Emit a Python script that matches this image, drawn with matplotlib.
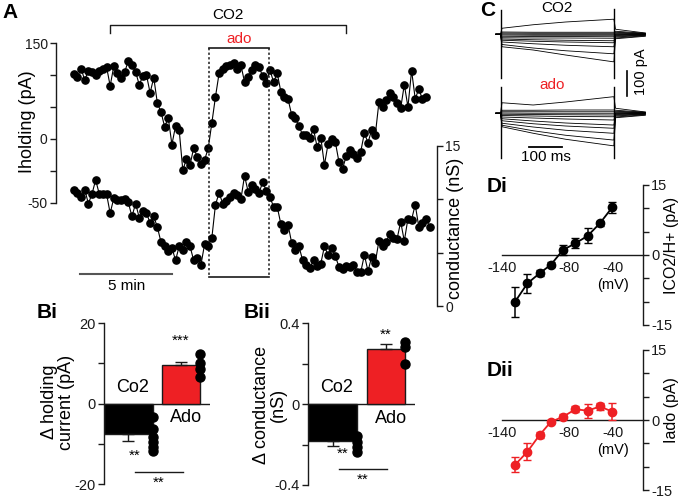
import numpy as np
import matplotlib
matplotlib.use("Agg")
import matplotlib.pyplot as plt

plt.rcParams['font.family'] = ['Liberation Sans', 'DejaVu Sans']

# ---- A: holding current and conductance over time (sampled every ~12 s)
sample_s = 11.8
ihold = [101, 97, 110, 92, 107, 105, 100, 107, 109, 113, 83, 114, 103, 96, 105, 122,
         116, 105, 85, 98, 100, 72, 96, 56, 42, 19, 33, -9, 20, 14, -49, -32, -41, -14,
         -29, -39, -33, -15, 25, 66, 103, 110, 114, 116, 119, 110, 116, 89, 97, 108, 116,
         113, 98, 88, 108, 89, 103, 74, 65, 62, 37, 32, 20, 6, 6, 2, 15, -13, 2, -41, -8,
         -1, -5, -36, -47, -27, -18, -23, -30, -20, 9, -6, 14, 6, 57, 50, 61, 72, 65, 56,
         48, 85, 50, 107, 63, 78, 62, 65]
gcond = [10.9, 10.6, 10.2, 10.9, 9.6, 10.5, 11.8, 10.5, 10.5, 10.5, 8.7, 10.1, 9.9, 9.9,
         10.0, 9.7, 8.4, 9.6, 8.3, 8.9, 8.7, 7.8, 8.4, 7.4, 6.0, 5.6, 5.2, 5.5, 4.3, 5.6,
         5.3, 6.0, 5.6, 4.3, 4.5, 3.9, 5.8, 5.6, 6.4, 9.5, 10.6, 9.6, 9.8, 10.2, 10.6, 10.4,
         10.0, 12.2, 10.7, 11.3, 11.0, 10.6, 11.6, 10.8, 10.2, 9.3, 9.3, 7.7, 7.1, 7.6, 5.9,
         5.3, 5.6, 4.3, 3.9, 3.6, 4.3, 3.8, 4.0, 5.6, 4.8, 5.5, 4.7, 3.7, 3.5, 3.8, 3.7, 3.9,
         3.2, 3.2, 4.8, 3.3, 4.6, 4.1, 6.1, 5.6, 6.0, 6.8, 6.4, 6.3, 7.9, 6.1, 8.2, 8.1, 9.5,
         7.4, 7.8, 8.2, 7.4]
co2_on, co2_off = 117, 884      # s
ado_on, ado_off = 439, 634      # s

# ---- B: summary bars
b_groups = ['Co2', 'Ado']
dI_mean = [-7.5, 9.5]
dI_sem = [1.8, 0.8]
dI_pts = [[-3.3, -6.2, -8.3, -9.6, -10.8, -11.8], [12.4, 10.0, 8.7, 6.6]]
dG_mean = [-0.183, 0.271]
dG_sem = [0.025, 0.026]
dG_pts = [[-0.158, -0.187, -0.211, -0.236], [0.308, 0.284, 0.201]]
bar_width = [0.93, 0.71]

# ---- C: current traces (pA) at knots during the 350 ms step
step_t = [4, 100, 200, 346]
co2_step = [[24, 38, 49, 60], [9, 8, 8, 8], [5, 4, 4, 4], [1, 0, 0, 0], [-3, -4, -4, -4],
            [-8, -9, -9, -10], [-14, -15, -15, -16], [-19, -22, -24, -26],
            [-24, -28, -31, -34], [-31, -38, -44, -50], [-41, -55, -66, -78],
            [-50, -63, -83, -110]]
ado_step = [[42, 33, 45, 66], [12, 12, 13, 13], [6, 6, 6, 6], [1, 0, 0, 0], [-4, -5, -6, -7],
            [-9, -11, -13, -14], [-15, -19, -23, -27], [-22, -31, -39, -47],
            [-30, -42, -51, -60], [-40, -55, -68, -80], [-48, -70, -88, -107],
            [-54, -80, -104, -130]]
tail_t = [354, 446]
tails = [[20, 5], [12, 4], [8, 3], [5, 2], [2, 1], [0, 0], [-2, -1], [-5, -2],
         [-8, -3], [-11, -4], [-15, -6], [-18, -8]]
spike_co2 = [(-175, 97), (-175, 100)]
spike_ado = [(-180, 104), (-179, 106)]
step_end = 350

# ---- D: I-V relations
vm = [-128, -117, -106, -96, -85, -74, -63, -52, -41]
i_co2 = [-10.0, -6.1, -3.9, -2.1, 1.1, 2.5, 4.1, 6.8, 10.2]
i_co2_err = [3.2, 2.1, 0.6, 0.5, 1.1, 1.1, 1.6, 0.5, 1.2]
i_ado = [-9.6, -6.8, -3.2, -0.4, 0.7, 2.3, 2.0, 2.9, 1.8]
i_ado_err = [1.6, 1.8, 0.7, 0.3, 0.5, 0.6, 1.5, 0.7, 1.9]

RED = '#ee2024'
INK = '#1a1a1a'
W, H = 682, 500
fig = plt.figure(figsize=(6.82, 5.0), dpi=100)


def axes_px(x0, y0, x1, y1):
    ax = fig.add_axes([x0 / W, 1 - y1 / H, (x1 - x0) / W, (y1 - y0) / H])
    ax.patch.set_alpha(0)
    for s in ax.spines.values():
        s.set_visible(False)
        s.set_color(INK)
        s.set_linewidth(1)
    ax.tick_params(colors=INK, labelsize=10, length=4, width=1, pad=2)
    return ax


def text_px(x, y, s, **kw):
    fig.text(x / W, 1 - y / H, s, **kw)


# ================= A
axA = axes_px(56, 10, 437, 290)
axA.set_xlim(-58, 1180)
axA.set_ylim(-237, 202)
tA = np.arange(len(ihold)) * sample_s
axA.plot(tA, ihold, '-o', color='k', ms=5.2, lw=0.8)
axA.spines['left'].set_visible(True)
axA.spines['left'].set_bounds(-100, 150)
axA.set_xticks([])
axA.set_yticks([150, 100, 50, 0, -50, -100])
axA.set_yticklabels(['150', '', '', '0', '', '-50'])
# CO2 bracket
axA.plot([co2_on, co2_on, co2_off, co2_off], [166, 178, 178, 166], color=INK, lw=1, clip_on=False)
axA.text((co2_on + co2_off) / 2, 183, 'CO2', ha='center', va='bottom', fontsize=11)
# ado box
axA.plot([ado_on, ado_off], [142, 142], color=INK, lw=1.2)
axA.plot([ado_on, ado_off], [-217, -217], color=INK, lw=1.2)
axA.plot([ado_on, ado_on], [142, -217], color=INK, lw=1.1, ls=(0, (1.5, 1.5)))
axA.plot([ado_off, ado_off], [142, -217], color=INK, lw=1.1, ls=(0, (1.5, 1.5)))
axA.text((ado_on + ado_off) / 2, 146, 'ado', ha='center', va='bottom', fontsize=11, color=RED)
# 5 min scale bar
axA.plot([20, 320], [-212, -212], color='#555555', lw=1.5)
axA.text(170, -220, '5 min', ha='center', va='top', fontsize=11)

axG = axes_px(56, 10, 437, 310)
axG.set_xlim(-58, 1180)
axG.set_ylim(-0.33, 27.66)
tG = np.arange(len(gcond)) * sample_s
axG.plot(tG, gcond, '-o', color='k', ms=5.2, lw=0.8)
axG.spines['right'].set_visible(True)
axG.spines['right'].set_bounds(0, 15)
axG.set_xticks([])
axG.yaxis.tick_right()
axG.set_yticks([0, 5, 10, 15])
axG.set_yticklabels(['0', '', '', '15'])

text_px(27, 122, 'Iholding (pA)', rotation=90, ha='center', va='center', fontsize=13)
text_px(456, 228, 'conductance (nS)', rotation=90, ha='center', va='center', fontsize=13)
text_px(2, 13, 'A', fontsize=15, fontweight='bold', va='center')

# ================= B
def bar_panel(box, means, sems, pts, ylim, ticks, ticklabels, stars, sig_y, sig_x):
    ax = axes_px(*box)
    ax.set_ylim(*ylim)
    ax.set_xlim(-0.464, 1.55)
    pos = [0, 1]
    ax.bar(pos, means, width=bar_width, color=['k', RED], edgecolor=INK, lw=1, zorder=2)
    ax.errorbar(pos[0], means[0], yerr=[[sems[0]], [0]], fmt='none', ecolor=INK,
                elinewidth=1, capsize=4, zorder=3)
    ax.errorbar(pos[1], means[1], yerr=[[0], [sems[1]]], fmt='none', ecolor=INK,
                elinewidth=1, capsize=4, zorder=3)
    for p, w, vals in zip(pos, bar_width, pts):
        ax.plot([p + w / 2] * len(vals), vals, 'o', color='k', ms=6.5, zorder=4, clip_on=False)
    ax.axhline(0, color=INK, lw=1, zorder=1)
    ax.spines['left'].set_visible(True)
    ax.set_xticks([])
    ax.set_yticks(ticks)
    ax.set_yticklabels(ticklabels)
    ax.tick_params(labelsize=10.5)
    span = ylim[1] - ylim[0]
    ax.text(0.08, 0.05 * span, b_groups[0], ha='center', va='bottom', fontsize=13)
    ax.text(1.1, -0.035 * span, b_groups[1], ha='center', va='top', fontsize=13)
    ax.text(stars[0][0], stars[0][1], '**', ha='center', va='center', fontsize=11)
    ax.text(stars[1][0], stars[1][1], stars[1][2], ha='center', va='center', fontsize=11)
    ax.plot(sig_x, [sig_y, sig_y], color=INK, lw=1, clip_on=False)
    ax.text(np.mean(sig_x), sig_y - 0.025 * span, '**', ha='center', va='top', fontsize=11)
    return ax

bar_panel((104, 323.3, 210, 484), dI_mean, dI_sem, dI_pts, (-20, 20),
          [-20, -10, 0, 10, 20], ['-20', '', '0', '', '20'],
          [(0.12, -13.0), (1.0, 15.6, '***')], -17.0, [0.12, 1.03])
bar_panel((308, 323.3, 415, 485), dG_mean, dG_sem, dG_pts, (-0.4, 0.4),
          [-0.4, -0.2, 0, 0.2, 0.4], ['-0.4', '', '0', '', '0.4'],
          [(0.19, -0.245), (1.0, 0.345, '**')], -0.32, [0.12, 1.02])
text_px(58, 402, 'Δ holding\ncurrent (pA)', rotation=90, ha='center', va='center',
        fontsize=13, multialignment='center', linespacing=1.0)
text_px(270, 405, 'Δ conductance\n(nS)', rotation=90, ha='center', va='center',
        fontsize=13, multialignment='center', linespacing=1.0)
text_px(37, 312, 'Bi', fontsize=15, fontweight='bold', va='center')
text_px(244, 312, 'Bii', fontsize=15, fontweight='bold', va='center')

# ================= C
axC = axes_px(485, 0, 682, 170)
axC.set_xlim(-48.5, 559)
axC.set_ylim(-543, 137)
axC.set_xticks([])
axC.set_yticks([])
ado_offset = -316
for traces, spikes, off in [(co2_step, spike_co2, 0), (ado_step, spike_ado, ado_offset)]:
    for tr, tl in zip(traces, tails):
        t = [-15, -1] + step_t + [step_end - 1] + tail_t
        v = [0, 0] + tr + [tr[-1]] + tl
        axC.plot(t, np.array(v) + off, color='k', lw=0.6)
    axC.plot([0, 0], np.array(spikes[0]) + off, color='k', lw=1.0)
    axC.plot([step_end, step_end], np.array(spikes[1]) + off, color='k', lw=1.0)
axC.text(173, 105, 'CO2', ha='center', va='center', fontsize=11)
axC.text(157, -203, 'ado', ha='center', va='center', fontsize=11, color=RED)
axC.plot([88, 188], [-450, -450], color='k', lw=1.3)
axC.text(138, -490, '100 ms', ha='center', va='center', fontsize=11)
axC.plot([390, 390], [-145, -245], color='k', lw=1.2)
axC.text(432, -150, '100 pA', rotation=90, ha='center', va='center', fontsize=10.5)
text_px(480, 10, 'C', fontsize=15, fontweight='bold', va='center')

# ================= D
def iv_panel(box, vals, errs, color, ylabel, name, name_y):
    ax = axes_px(*box)
    ax.set_xlim(-140, -13.4)
    ax.set_ylim(-15, 15)
    ax.errorbar(vm, vals, yerr=errs, fmt='-o', color=color, ecolor=color, ms=6,
                lw=1.3, elinewidth=1.1, capsize=3, zorder=3)
    ax.spines['right'].set_visible(True)
    ax.spines['bottom'].set_visible(True)
    ax.spines['bottom'].set_position(('data', 0))
    ax.yaxis.tick_right()
    ax.set_yticks([-15, -10, -5, 0, 5, 10, 15])
    ax.set_yticklabels(['-15', '', '', '0', '', '', '15'])
    ax.set_xticks([-140, -80, -40])
    ax.set_xticklabels(['-140', '-80', '-40'])
    ax.tick_params(axis='x', length=0, pad=4)
    ax.tick_params(axis='y', labelsize=10.5)
    ax.tick_params(axis='x', labelsize=10.5)
    ax.text(-40, -6.4, '(mV)', ha='center', va='center', fontsize=10.5)
    ax.text(1.205, 0.57, ylabel, rotation=90, ha='center', va='center', fontsize=11.5,
            transform=ax.transAxes)
    text_px(487, name_y, name, fontsize=15, fontweight='bold', va='center')
    return ax

iv_panel((501.7, 185, 643, 325), i_co2, i_co2_err, 'k', 'ICO2/H+ (pA)', 'Di', 187)
iv_panel((501.7, 350, 643, 490), i_ado, i_ado_err, RED, 'Iado (pA)', 'Dii', 370)

fig.savefig('out.png', dpi=100)
